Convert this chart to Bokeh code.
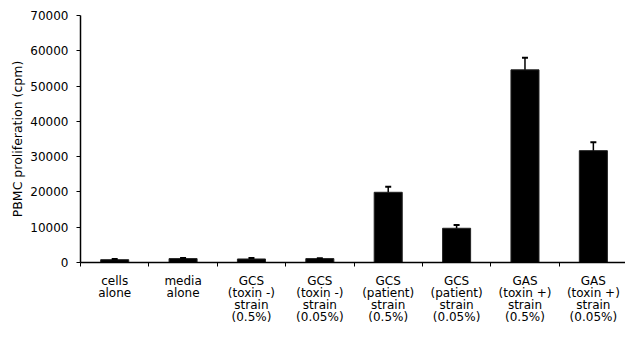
from bokeh.plotting import figure
from bokeh.models import ColumnDataSource, FixedTicker, Whisker, TeeHead, Range1d
from bokeh.embed import file_html
from bokeh.resources import INLINE

categories = [
    "cells\nalone",
    "media\nalone",
    "GCS\n(toxin -)\nstrain\n(0.5%)",
    "GCS\n(toxin -)\nstrain\n(0.05%)",
    "GCS\n(patient)\nstrain\n(0.5%)",
    "GCS\n(patient)\nstrain\n(0.05%)",
    "GAS\n(toxin +)\nstrain\n(0.5%)",
    "GAS\n(toxin +)\nstrain\n(0.05%)",
]
values = [800, 1100, 1000, 1100, 19900, 9700, 54600, 31700]
errors = [200, 150, 300, 100, 1600, 900, 3400, 2400]
y_ticks = [0, 10000, 20000, 30000, 40000, 50000, 60000, 70000]

xs = [i + 0.5 for i in range(len(categories))]
src = ColumnDataSource(dict(
    x=xs,
    top=values,
    upper=[v + e for v, e in zip(values, errors)],
))

FONT = "DejaVu Sans"

p = figure(width=625, height=340, output_backend="svg", toolbar_location=None,
           x_range=Range1d(0, 7.97), y_range=Range1d(0, 70000),
           min_border_left=80, min_border_right=0, min_border_top=15,
           min_border_bottom=78)
p.outline_line_color = None
p.grid.grid_line_color = None
p.background_fill_color = "white"

p.vbar(x="x", top="top", width=0.41, bottom=0, source=src,
       fill_color="black", line_color="#222222", line_width=1)

w = Whisker(base="x", lower="top", upper="upper", source=src,
            line_color="black", line_width=1.5,
            upper_head=TeeHead(size=6, line_color="black", line_width=2),
            lower_head=None, level="overlay")
p.add_layout(w)

# x axis: ticks at category boundaries (minor), labels at centres (major)
p.xaxis.ticker = FixedTicker(ticks=xs, minor_ticks=list(range(0, 9)))
p.xaxis.major_label_overrides = {x: c for x, c in zip(xs, categories)}
p.xaxis.major_tick_line_color = None
p.xaxis.major_tick_in = 0
p.xaxis.major_tick_out = 4
p.xaxis.minor_tick_line_color = "black"
p.xaxis.minor_tick_line_width = 1
p.xaxis.minor_tick_in = 0
p.xaxis.minor_tick_out = 4
p.xaxis.axis_line_color = "black"
p.xaxis.axis_line_width = 1.5
p.xaxis.major_label_text_font = FONT
p.xaxis.major_label_text_font_size = "12px"
p.xaxis.major_label_text_color = "black"
p.xaxis.major_label_text_line_height = 0.86
p.xaxis.major_label_standoff = 7

p.yaxis.ticker = FixedTicker(ticks=y_ticks, minor_ticks=[])
p.yaxis.major_label_overrides = {t: str(t) for t in y_ticks}
p.yaxis.axis_label = "PBMC proliferation (cpm)"
p.yaxis.axis_label_text_font = FONT
p.yaxis.axis_label_text_font_size = "12.5px"
p.yaxis.axis_label_text_font_style = "normal"
p.yaxis.axis_label_text_color = "black"
p.yaxis.axis_label_standoff = 2
p.yaxis.major_label_text_font = FONT
p.yaxis.major_label_text_font_size = "12px"
p.yaxis.major_label_text_color = "black"
p.yaxis.major_label_standoff = 8
p.yaxis.major_tick_in = 0
p.yaxis.major_tick_out = 4
p.yaxis.major_tick_line_color = "black"
p.yaxis.axis_line_color = "black"
p.yaxis.axis_line_width = 1.5
p.yaxis.minor_tick_line_color = None

open("out.html", "w").write(file_html(p, INLINE))
